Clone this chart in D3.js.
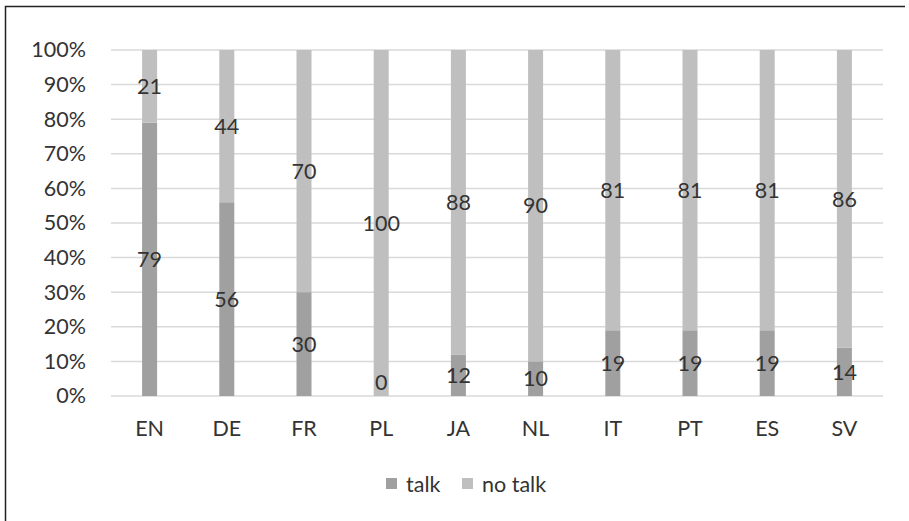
<!DOCTYPE html>
<html><head><meta charset="utf-8">
<script src="https://cdn.jsdelivr.net/npm/d3@7"></script>
<style>
body{margin:0;background:#fff;}
svg text{font-family:Lato,"Open Sans",sans-serif;fill:#333;}
</style></head><body>
<svg id="c" width="909" height="521"></svg>
<script>
const categories = ["EN","DE","FR","PL","JA","NL","IT","PT","ES","SV"];
const talk =   [79,56,30,0,12,10,19,19,19,14];
const noTalk = [21,44,70,100,88,90,81,81,81,86];
const seriesNames = ["talk","no talk"];
const colors = ["#a0a0a0","#bfbfbf"];
const yTicks = [0,10,20,30,40,50,60,70,80,90,100];

const svg = d3.select("#c");
const FS = 21.5;
// frame
svg.append("path").attr("d","M5.5,521 L5.5,6.5 L905,6.5").attr("fill","none").attr("stroke","#222").attr("stroke-width",1.5);

const x = d3.scaleBand().domain(categories).range([111,883]).paddingInner(0).paddingOuter(0);
const y = d3.scaleLinear().domain([0,100]).range([396,50]);
const bw = 15;

// grid
svg.append("g").selectAll("line").data(yTicks).join("line")
  .attr("x1",111).attr("x2",883).attr("y1",d=>y(d)).attr("y2",d=>y(d))
  .attr("stroke","#d9d9d9").attr("stroke-width",1.5);

// y axis labels
const yAxis = d3.axisLeft(y).tickValues(yTicks).tickFormat(d=>d+"%").tickSize(0).tickPadding(0);
const ga = svg.append("g").attr("transform","translate(86,0)").call(yAxis);
ga.select(".domain").remove();
ga.selectAll("text").attr("font-size",FS).attr("font-family","Lato").attr("fill","#333");

// x axis labels
const xAxis = d3.axisBottom(x).tickSize(0).tickPadding(0);
const gx = svg.append("g").attr("transform","translate(0,421)").call(xAxis);
gx.select(".domain").remove();
gx.selectAll("text").attr("font-size",FS).attr("font-family","Lato").attr("fill","#333");

const data = categories.map((c,i)=>({cat:c,talk:talk[i],"no talk":noTalk[i]}));
const stack = d3.stack().keys(seriesNames)(data);

const g = svg.append("g");
stack.forEach((s,si)=>{
  g.append("g").selectAll("rect").data(s).join("rect")
    .attr("x",d=>x(d.data.cat)+x.bandwidth()/2-bw/2)
    .attr("width",bw)
    .attr("y",d=>y(d[1]))
    .attr("height",d=>y(d[0])-y(d[1]))
    .attr("fill",colors[si]);
});
stack.forEach((s,si)=>{
  g.append("g").selectAll("text").data(s).join("text")
    .attr("x",d=>x(d.data.cat)+x.bandwidth()/2)
    .attr("y",d=>Math.min(y((d[0]+d[1])/2), y(d[0])-14))
    .attr("dy","0.36em")
    .attr("text-anchor","middle")
    .attr("font-size",FS)
    .text(d=>d.data[seriesNames[si]]);
});

// legend
const leg = svg.append("g");
const legX = [386,462];
seriesNames.forEach((n,i)=>{
  leg.append("rect").attr("x",legX[i]).attr("y",478).attr("width",11).attr("height",11).attr("fill",colors[i]);
  leg.append("text").attr("x",legX[i]+20).attr("y",484).attr("dy","0.36em").attr("font-size",FS).text(n);
});
</script></body></html>
